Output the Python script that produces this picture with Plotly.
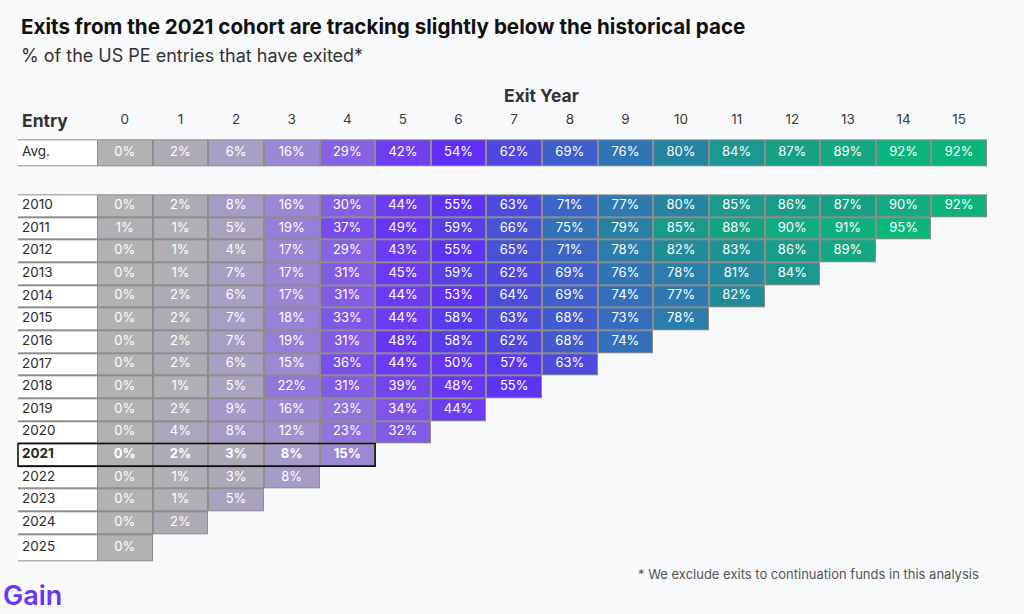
import numpy as np
import plotly.graph_objects as go

# ---------------- data ----------------
exit_years = list(range(16))
entry_labels = ["Avg.", "2010", "2011", "2012", "2013", "2014", "2015", "2016", "2017",
                "2018", "2019", "2020", "2021", "2022", "2023", "2024", "2025"]
avg = [0, 2, 6, 16, 29, 42, 54, 62, 69, 76, 80, 84, 87, 89, 92, 92]
c2010 = [0, 2, 8, 16, 30, 44, 55, 63, 71, 77, 80, 85, 86, 87, 90, 92]
c2011 = [1, 1, 5, 19, 37, 49, 59, 66, 75, 79, 85, 88, 90, 91, 95]
c2012 = [0, 1, 4, 17, 29, 43, 55, 65, 71, 78, 82, 83, 86, 89]
c2013 = [0, 1, 7, 17, 31, 45, 59, 62, 69, 76, 78, 81, 84]
c2014 = [0, 2, 6, 17, 31, 44, 53, 64, 69, 74, 77, 82]
c2015 = [0, 2, 7, 18, 33, 44, 58, 63, 68, 73, 78]
c2016 = [0, 2, 7, 19, 31, 48, 58, 62, 68, 74]
c2017 = [0, 2, 6, 15, 36, 44, 50, 57, 63]
c2018 = [0, 1, 5, 22, 31, 39, 48, 55]
c2019 = [0, 2, 9, 16, 23, 34, 44]
c2020 = [0, 4, 8, 12, 23, 32]
c2021 = [0, 2, 3, 8, 15]
c2022 = [0, 1, 3, 8]
c2023 = [0, 1, 5]
c2024 = [0, 2]
c2025 = [0]
highlight_entry = "2021"

rows_values = [avg, None, c2010, c2011, c2012, c2013, c2014, c2015, c2016, c2017,
               c2018, c2019, c2020, c2021, c2022, c2023, c2024, c2025]
row_names = ["Avg.", None] + entry_labels[1:]

# ---------------- layout geometry ----------------
W, H = 1024, 614
px_per_col = 890 / 16.0
u = 1.0 / px_per_col
x0 = -0.5 - 97 * u
x1 = 15.5 + (W - 987) * u
label_left = -0.5 - 79 * u

# row edges (y axis in pixel units, reversed)
tall_h = 26.8
reg_h = 22.65
edges = [139.3, 139.3 + tall_h, 194.3]
for i in range(15):
    edges.append(edges[-1] + reg_h)
edges.append(edges[-1] + 27.5)
centers = [(edges[i] + edges[i + 1]) / 2 for i in range(len(edges) - 1)]

ncols = len(exit_years)
x_edges_data = [c - 0.5 for c in exit_years] + [exit_years[-1] + 0.5]
x_edges_all = [label_left] + x_edges_data

Z = np.full((len(rows_values), ncols), np.nan)
under = np.full((len(rows_values), ncols + 1), np.nan)
white = np.full((len(rows_values), 1), np.nan)
for r, vals in enumerate(rows_values):
    if vals is None:
        continue
    for c, v in enumerate(vals):
        Z[r, c] = v / 100.0
        under[r, c + 1] = 1
    under[r, 0] = 1
    white[r, 0] = 1

colorscale = [
    [0.00, "#b2b2b2"], [0.02, "#aeabb4"], [0.06, "#a8a0c2"], [0.16, "#9a88d5"],
    [0.29, "#8762e2"], [0.42, "#6e3ef0"], [0.54, "#6030f7"], [0.62, "#5046e0"],
    [0.69, "#3f5fcc"], [0.76, "#2f75b5"], [0.80, "#2684a0"], [0.84, "#1c978f"],
    [0.87, "#16a084"], [0.89, "#14a882"], [0.92, "#0bb47a"], [1.00, "#05bc76"],
]

fig = go.Figure()
fig.add_trace(go.Heatmap(x=x_edges_all, y=edges, z=under,
                         colorscale=[[0, "#8d8d8d"], [1, "#8d8d8d"]],
                         showscale=False, hoverinfo="skip"))
fig.add_trace(go.Heatmap(x=[label_left, -0.5], y=edges, z=white,
                         colorscale=[[0, "#ffffff"], [1, "#ffffff"]],
                         showscale=False, ygap=2, xgap=0, hoverinfo="skip"))
fig.add_trace(go.Heatmap(x=x_edges_data, y=edges, z=Z, zmin=0, zmax=1,
                         colorscale=colorscale, showscale=False,
                         xgap=2, ygap=2, hoverinfo="skip"))

# cell texts
tx, ty, tt = [], [], []
for r, vals in enumerate(rows_values):
    if vals is None:
        continue
    bold = row_names[r] == highlight_entry
    for c, v in enumerate(vals):
        tx.append(exit_years[c])
        ty.append(centers[r])
        tt.append(f"<b>{v}%</b>" if bold else f"{v}%")
fig.add_trace(go.Scatter(x=tx, y=ty, text=tt, mode="text",
                         textfont=dict(family="Inter", size=13, color="#ffffff"),
                         hoverinfo="skip"))

# row labels
lx, ly, lt = [], [], []
for r, name in enumerate(row_names):
    if name is None:
        continue
    lx.append(label_left + 4 * u)
    ly.append(centers[r])
    lt.append(f"<b>{name}</b>" if name == highlight_entry else name)
fig.add_trace(go.Scatter(x=lx, y=ly, text=lt, mode="text", textposition="middle right",
                         textfont=dict(family="Inter", size=13.5, color="#2a2a2a"),
                         hoverinfo="skip"))

# column headers
fig.add_trace(go.Scatter(x=exit_years, y=[121] * ncols, text=[str(e) for e in exit_years],
                         mode="text", textfont=dict(family="Inter", size=13.5, color="#3a3a3a"),
                         hoverinfo="skip"))

# highlight box for 2021
hr = row_names.index(highlight_entry)
fig.add_shape(type="rect", xref="x", yref="y", x0=label_left, x1=len(c2021) - 0.5,
              y0=edges[hr], y1=edges[hr + 1], line=dict(color="#111111", width=1.6),
              fillcolor="rgba(0,0,0,0)")

def py(p):
    return 1 - p / H

annotations = [
    dict(text="<b>Exits from the 2021 cohort are tracking slightly below the historical pace</b>",
         x=19 / W, y=py(26), xanchor="left", yanchor="middle",
         font=dict(family="Inter", size=20.6, color="#111111")),
    dict(text="% of the US PE entries that have exited*", x=19 / W, y=py(55),
         xanchor="left", yanchor="middle", font=dict(family="Inter", size=18, color="#333333")),
    dict(text="<b>Exit Year</b>", x=541 / W, y=py(96), xanchor="center", yanchor="middle",
         font=dict(family="Inter", size=17.5, color="#333333")),
    dict(text="<b>Entry</b>", x=20 / W, y=py(121), xanchor="left", yanchor="middle",
         font=dict(family="Inter", size=17.5, color="#333333")),
    dict(text="* We exclude exits to continuation funds in this analysis", x=981 / W, y=py(574),
         xanchor="right", yanchor="middle", font=dict(family="Inter", size=13, color="#555555")),
    dict(text="Gain", x=1 / W, y=0, xanchor="left", yanchor="bottom",
         font=dict(family="Inter", size=27, color="#6a35f5", weight=600)),
]
for a in annotations:
    a.update(xref="paper", yref="paper", showarrow=False)

fig.update_layout(
    width=W, height=H, margin=dict(l=0, r=0, t=0, b=0),
    paper_bgcolor="#f8f9fb", plot_bgcolor="#f8f9fb",
    xaxis=dict(range=[x0, x1], visible=False, fixedrange=True),
    yaxis=dict(range=[H, 0], visible=False, fixedrange=True),
    showlegend=False, annotations=annotations,
)
fig.write_html("out.html")
